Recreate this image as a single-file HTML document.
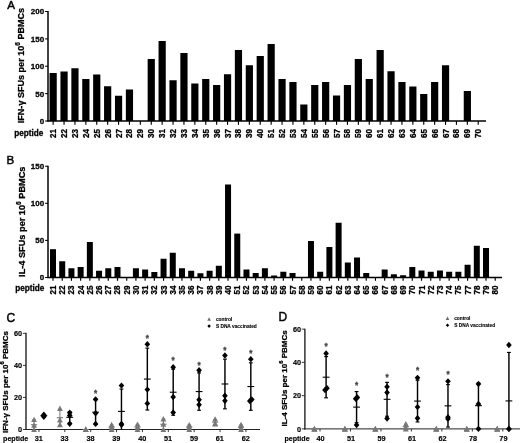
<!DOCTYPE html>
<html><head><meta charset="utf-8"><title>Figure</title>
<style>
html,body{margin:0;padding:0;background:#fff;}
svg{display:block;}
svg text{font-family:"Liberation Sans",Arial,sans-serif;}
</style></head><body>
<svg width="520" height="443" viewBox="0 0 520 443">
<rect x="0" y="0" width="520" height="443" fill="#fff"/>
<text x="7.2" y="8.9" font-size="11.6" font-weight="normal" text-anchor="start" fill="#000" stroke="#000" stroke-width="0.45">A</text>
<text x="24.5" y="123.2" font-size="9.05" font-weight="bold" text-anchor="start" fill="#000" stroke="#000" stroke-width="0.28" transform="rotate(-90 24.5 123.2)">IFN-γ SFUs per 10<tspan font-size="6.5" dy="-4.3">6</tspan><tspan dy="4.3"> PBMCs</tspan></text>
<line x1="48" y1="11" x2="48" y2="121.5" stroke="#000" stroke-width="1.5"/>
<line x1="47.3" y1="121.0" x2="486" y2="121.0" stroke="#000" stroke-width="1.3"/>
<line x1="45.1" y1="11.5" x2="48" y2="11.5" stroke="#000" stroke-width="1.05"/>
<text x="44.1" y="14.4" font-size="8" font-weight="bold" text-anchor="end" fill="#000" stroke="#000" stroke-width="0.28">200</text>
<line x1="45.1" y1="38.9" x2="48" y2="38.9" stroke="#000" stroke-width="1.05"/>
<text x="44.1" y="41.8" font-size="8" font-weight="bold" text-anchor="end" fill="#000" stroke="#000" stroke-width="0.28">150</text>
<line x1="45.1" y1="66.2" x2="48" y2="66.2" stroke="#000" stroke-width="1.05"/>
<text x="44.1" y="69.10000000000001" font-size="8" font-weight="bold" text-anchor="end" fill="#000" stroke="#000" stroke-width="0.28">100</text>
<line x1="45.1" y1="93.6" x2="48" y2="93.6" stroke="#000" stroke-width="1.05"/>
<text x="44.1" y="96.5" font-size="8" font-weight="bold" text-anchor="end" fill="#000" stroke="#000" stroke-width="0.28">50</text>
<line x1="45.1" y1="121" x2="48" y2="121" stroke="#000" stroke-width="1.05"/>
<text x="44.1" y="123.9" font-size="8" font-weight="bold" text-anchor="end" fill="#000" stroke="#000" stroke-width="0.28">0</text>
<rect x="49.55" y="73.00" width="7.20" height="48.00" fill="#000"/>
<line x1="53.15" y1="121.0" x2="53.15" y2="124.8" stroke="#000" stroke-width="1.15"/>
<text x="56.15" y="137.9" font-size="8.15" font-weight="bold" text-anchor="start" fill="#000" stroke="#000" stroke-width="0.28" transform="rotate(-90 56.15 137.9)">21</text>
<rect x="60.45" y="71.50" width="7.20" height="49.50" fill="#000"/>
<line x1="64.05" y1="121.0" x2="64.05" y2="124.8" stroke="#000" stroke-width="1.15"/>
<text x="67.05" y="137.9" font-size="8.15" font-weight="bold" text-anchor="start" fill="#000" stroke="#000" stroke-width="0.28" transform="rotate(-90 67.05 137.9)">22</text>
<rect x="71.35" y="68.25" width="7.20" height="52.75" fill="#000"/>
<line x1="74.94999999999999" y1="121.0" x2="74.94999999999999" y2="124.8" stroke="#000" stroke-width="1.15"/>
<text x="77.94999999999999" y="137.9" font-size="8.15" font-weight="bold" text-anchor="start" fill="#000" stroke="#000" stroke-width="0.28" transform="rotate(-90 77.94999999999999 137.9)">23</text>
<rect x="82.25" y="79.00" width="7.20" height="42.00" fill="#000"/>
<line x1="85.85" y1="121.0" x2="85.85" y2="124.8" stroke="#000" stroke-width="1.15"/>
<text x="88.85" y="137.9" font-size="8.15" font-weight="bold" text-anchor="start" fill="#000" stroke="#000" stroke-width="0.28" transform="rotate(-90 88.85 137.9)">24</text>
<rect x="93.15" y="74.50" width="7.20" height="46.50" fill="#000"/>
<line x1="96.75" y1="121.0" x2="96.75" y2="124.8" stroke="#000" stroke-width="1.15"/>
<text x="99.75" y="137.9" font-size="8.15" font-weight="bold" text-anchor="start" fill="#000" stroke="#000" stroke-width="0.28" transform="rotate(-90 99.75 137.9)">25</text>
<rect x="104.05" y="86.25" width="7.20" height="34.75" fill="#000"/>
<line x1="107.64999999999999" y1="121.0" x2="107.64999999999999" y2="124.8" stroke="#000" stroke-width="1.15"/>
<text x="110.64999999999999" y="137.9" font-size="8.15" font-weight="bold" text-anchor="start" fill="#000" stroke="#000" stroke-width="0.28" transform="rotate(-90 110.64999999999999 137.9)">26</text>
<rect x="114.95" y="95.75" width="7.20" height="25.25" fill="#000"/>
<line x1="118.55" y1="121.0" x2="118.55" y2="124.8" stroke="#000" stroke-width="1.15"/>
<text x="121.55" y="137.9" font-size="8.15" font-weight="bold" text-anchor="start" fill="#000" stroke="#000" stroke-width="0.28" transform="rotate(-90 121.55 137.9)">27</text>
<rect x="125.85" y="89.50" width="7.20" height="31.50" fill="#000"/>
<line x1="129.45" y1="121.0" x2="129.45" y2="124.8" stroke="#000" stroke-width="1.15"/>
<text x="132.45" y="137.9" font-size="8.15" font-weight="bold" text-anchor="start" fill="#000" stroke="#000" stroke-width="0.28" transform="rotate(-90 132.45 137.9)">28</text>
<line x1="140.35" y1="121.0" x2="140.35" y2="124.8" stroke="#000" stroke-width="1.15"/>
<text x="143.35" y="137.9" font-size="8.15" font-weight="bold" text-anchor="start" fill="#000" stroke="#000" stroke-width="0.28" transform="rotate(-90 143.35 137.9)">29</text>
<rect x="147.65" y="59.00" width="7.20" height="62.00" fill="#000"/>
<line x1="151.25" y1="121.0" x2="151.25" y2="124.8" stroke="#000" stroke-width="1.15"/>
<text x="154.25" y="137.9" font-size="8.15" font-weight="bold" text-anchor="start" fill="#000" stroke="#000" stroke-width="0.28" transform="rotate(-90 154.25 137.9)">30</text>
<rect x="158.55" y="41.00" width="7.20" height="80.00" fill="#000"/>
<line x1="162.15" y1="121.0" x2="162.15" y2="124.8" stroke="#000" stroke-width="1.15"/>
<text x="165.15" y="137.9" font-size="8.15" font-weight="bold" text-anchor="start" fill="#000" stroke="#000" stroke-width="0.28" transform="rotate(-90 165.15 137.9)">31</text>
<rect x="169.45" y="80.25" width="7.20" height="40.75" fill="#000"/>
<line x1="173.04999999999998" y1="121.0" x2="173.04999999999998" y2="124.8" stroke="#000" stroke-width="1.15"/>
<text x="176.04999999999998" y="137.9" font-size="8.15" font-weight="bold" text-anchor="start" fill="#000" stroke="#000" stroke-width="0.28" transform="rotate(-90 176.04999999999998 137.9)">32</text>
<rect x="180.35" y="53.00" width="7.20" height="68.00" fill="#000"/>
<line x1="183.95000000000002" y1="121.0" x2="183.95000000000002" y2="124.8" stroke="#000" stroke-width="1.15"/>
<text x="186.95000000000002" y="137.9" font-size="8.15" font-weight="bold" text-anchor="start" fill="#000" stroke="#000" stroke-width="0.28" transform="rotate(-90 186.95000000000002 137.9)">33</text>
<rect x="191.25" y="83.50" width="7.20" height="37.50" fill="#000"/>
<line x1="194.85" y1="121.0" x2="194.85" y2="124.8" stroke="#000" stroke-width="1.15"/>
<text x="197.85" y="137.9" font-size="8.15" font-weight="bold" text-anchor="start" fill="#000" stroke="#000" stroke-width="0.28" transform="rotate(-90 197.85 137.9)">34</text>
<rect x="202.15" y="79.00" width="7.20" height="42.00" fill="#000"/>
<line x1="205.74999999999997" y1="121.0" x2="205.74999999999997" y2="124.8" stroke="#000" stroke-width="1.15"/>
<text x="208.74999999999997" y="137.9" font-size="8.15" font-weight="bold" text-anchor="start" fill="#000" stroke="#000" stroke-width="0.28" transform="rotate(-90 208.74999999999997 137.9)">35</text>
<rect x="213.05" y="85.00" width="7.20" height="36.00" fill="#000"/>
<line x1="216.65" y1="121.0" x2="216.65" y2="124.8" stroke="#000" stroke-width="1.15"/>
<text x="219.65" y="137.9" font-size="8.15" font-weight="bold" text-anchor="start" fill="#000" stroke="#000" stroke-width="0.28" transform="rotate(-90 219.65 137.9)">36</text>
<rect x="223.95" y="74.25" width="7.20" height="46.75" fill="#000"/>
<line x1="227.54999999999998" y1="121.0" x2="227.54999999999998" y2="124.8" stroke="#000" stroke-width="1.15"/>
<text x="230.54999999999998" y="137.9" font-size="8.15" font-weight="bold" text-anchor="start" fill="#000" stroke="#000" stroke-width="0.28" transform="rotate(-90 230.54999999999998 137.9)">37</text>
<rect x="234.85" y="50.00" width="7.20" height="71.00" fill="#000"/>
<line x1="238.45000000000002" y1="121.0" x2="238.45000000000002" y2="124.8" stroke="#000" stroke-width="1.15"/>
<text x="241.45000000000002" y="137.9" font-size="8.15" font-weight="bold" text-anchor="start" fill="#000" stroke="#000" stroke-width="0.28" transform="rotate(-90 241.45000000000002 137.9)">38</text>
<rect x="245.75" y="65.25" width="7.20" height="55.75" fill="#000"/>
<line x1="249.35" y1="121.0" x2="249.35" y2="124.8" stroke="#000" stroke-width="1.15"/>
<text x="252.35" y="137.9" font-size="8.15" font-weight="bold" text-anchor="start" fill="#000" stroke="#000" stroke-width="0.28" transform="rotate(-90 252.35 137.9)">39</text>
<rect x="256.65" y="56.00" width="7.20" height="65.00" fill="#000"/>
<line x1="260.25" y1="121.0" x2="260.25" y2="124.8" stroke="#000" stroke-width="1.15"/>
<text x="263.25" y="137.9" font-size="8.15" font-weight="bold" text-anchor="start" fill="#000" stroke="#000" stroke-width="0.28" transform="rotate(-90 263.25 137.9)">40</text>
<rect x="267.55" y="44.00" width="7.20" height="77.00" fill="#000"/>
<line x1="271.15000000000003" y1="121.0" x2="271.15000000000003" y2="124.8" stroke="#000" stroke-width="1.15"/>
<text x="274.15000000000003" y="137.9" font-size="8.15" font-weight="bold" text-anchor="start" fill="#000" stroke="#000" stroke-width="0.28" transform="rotate(-90 274.15000000000003 137.9)">51</text>
<rect x="278.45" y="79.00" width="7.20" height="42.00" fill="#000"/>
<line x1="282.05" y1="121.0" x2="282.05" y2="124.8" stroke="#000" stroke-width="1.15"/>
<text x="285.05" y="137.9" font-size="8.15" font-weight="bold" text-anchor="start" fill="#000" stroke="#000" stroke-width="0.28" transform="rotate(-90 285.05 137.9)">52</text>
<rect x="289.35" y="82.00" width="7.20" height="39.00" fill="#000"/>
<line x1="292.95000000000005" y1="121.0" x2="292.95000000000005" y2="124.8" stroke="#000" stroke-width="1.15"/>
<text x="295.95000000000005" y="137.9" font-size="8.15" font-weight="bold" text-anchor="start" fill="#000" stroke="#000" stroke-width="0.28" transform="rotate(-90 295.95000000000005 137.9)">53</text>
<rect x="300.25" y="104.50" width="7.20" height="16.50" fill="#000"/>
<line x1="303.85" y1="121.0" x2="303.85" y2="124.8" stroke="#000" stroke-width="1.15"/>
<text x="306.85" y="137.9" font-size="8.15" font-weight="bold" text-anchor="start" fill="#000" stroke="#000" stroke-width="0.28" transform="rotate(-90 306.85 137.9)">54</text>
<rect x="311.15" y="85.00" width="7.20" height="36.00" fill="#000"/>
<line x1="314.75000000000006" y1="121.0" x2="314.75000000000006" y2="124.8" stroke="#000" stroke-width="1.15"/>
<text x="317.75000000000006" y="137.9" font-size="8.15" font-weight="bold" text-anchor="start" fill="#000" stroke="#000" stroke-width="0.28" transform="rotate(-90 317.75000000000006 137.9)">55</text>
<rect x="322.05" y="82.00" width="7.20" height="39.00" fill="#000"/>
<line x1="325.65000000000003" y1="121.0" x2="325.65000000000003" y2="124.8" stroke="#000" stroke-width="1.15"/>
<text x="328.65000000000003" y="137.9" font-size="8.15" font-weight="bold" text-anchor="start" fill="#000" stroke="#000" stroke-width="0.28" transform="rotate(-90 328.65000000000003 137.9)">56</text>
<rect x="332.95" y="95.50" width="7.20" height="25.50" fill="#000"/>
<line x1="336.55000000000007" y1="121.0" x2="336.55000000000007" y2="124.8" stroke="#000" stroke-width="1.15"/>
<text x="339.55000000000007" y="137.9" font-size="8.15" font-weight="bold" text-anchor="start" fill="#000" stroke="#000" stroke-width="0.28" transform="rotate(-90 339.55000000000007 137.9)">57</text>
<rect x="343.85" y="85.00" width="7.20" height="36.00" fill="#000"/>
<line x1="347.45000000000005" y1="121.0" x2="347.45000000000005" y2="124.8" stroke="#000" stroke-width="1.15"/>
<text x="350.45000000000005" y="137.9" font-size="8.15" font-weight="bold" text-anchor="start" fill="#000" stroke="#000" stroke-width="0.28" transform="rotate(-90 350.45000000000005 137.9)">58</text>
<rect x="354.75" y="59.00" width="7.20" height="62.00" fill="#000"/>
<line x1="358.35" y1="121.0" x2="358.35" y2="124.8" stroke="#000" stroke-width="1.15"/>
<text x="361.35" y="137.9" font-size="8.15" font-weight="bold" text-anchor="start" fill="#000" stroke="#000" stroke-width="0.28" transform="rotate(-90 361.35 137.9)">59</text>
<rect x="365.65" y="79.00" width="7.20" height="42.00" fill="#000"/>
<line x1="369.25000000000006" y1="121.0" x2="369.25000000000006" y2="124.8" stroke="#000" stroke-width="1.15"/>
<text x="372.25000000000006" y="137.9" font-size="8.15" font-weight="bold" text-anchor="start" fill="#000" stroke="#000" stroke-width="0.28" transform="rotate(-90 372.25000000000006 137.9)">60</text>
<rect x="376.55" y="50.00" width="7.20" height="71.00" fill="#000"/>
<line x1="380.15000000000003" y1="121.0" x2="380.15000000000003" y2="124.8" stroke="#000" stroke-width="1.15"/>
<text x="383.15000000000003" y="137.9" font-size="8.15" font-weight="bold" text-anchor="start" fill="#000" stroke="#000" stroke-width="0.28" transform="rotate(-90 383.15000000000003 137.9)">61</text>
<rect x="387.45" y="71.25" width="7.20" height="49.75" fill="#000"/>
<line x1="391.05000000000007" y1="121.0" x2="391.05000000000007" y2="124.8" stroke="#000" stroke-width="1.15"/>
<text x="394.05000000000007" y="137.9" font-size="8.15" font-weight="bold" text-anchor="start" fill="#000" stroke="#000" stroke-width="0.28" transform="rotate(-90 394.05000000000007 137.9)">62</text>
<rect x="398.35" y="82.00" width="7.20" height="39.00" fill="#000"/>
<line x1="401.95000000000005" y1="121.0" x2="401.95000000000005" y2="124.8" stroke="#000" stroke-width="1.15"/>
<text x="404.95000000000005" y="137.9" font-size="8.15" font-weight="bold" text-anchor="start" fill="#000" stroke="#000" stroke-width="0.28" transform="rotate(-90 404.95000000000005 137.9)">63</text>
<rect x="409.25" y="86.50" width="7.20" height="34.50" fill="#000"/>
<line x1="412.85" y1="121.0" x2="412.85" y2="124.8" stroke="#000" stroke-width="1.15"/>
<text x="415.85" y="137.9" font-size="8.15" font-weight="bold" text-anchor="start" fill="#000" stroke="#000" stroke-width="0.28" transform="rotate(-90 415.85 137.9)">64</text>
<rect x="420.15" y="94.00" width="7.20" height="27.00" fill="#000"/>
<line x1="423.75000000000006" y1="121.0" x2="423.75000000000006" y2="124.8" stroke="#000" stroke-width="1.15"/>
<text x="426.75000000000006" y="137.9" font-size="8.15" font-weight="bold" text-anchor="start" fill="#000" stroke="#000" stroke-width="0.28" transform="rotate(-90 426.75000000000006 137.9)">65</text>
<rect x="431.05" y="82.00" width="7.20" height="39.00" fill="#000"/>
<line x1="434.65000000000003" y1="121.0" x2="434.65000000000003" y2="124.8" stroke="#000" stroke-width="1.15"/>
<text x="437.65000000000003" y="137.9" font-size="8.15" font-weight="bold" text-anchor="start" fill="#000" stroke="#000" stroke-width="0.28" transform="rotate(-90 437.65000000000003 137.9)">66</text>
<rect x="441.95" y="65.25" width="7.20" height="55.75" fill="#000"/>
<line x1="445.55000000000007" y1="121.0" x2="445.55000000000007" y2="124.8" stroke="#000" stroke-width="1.15"/>
<text x="448.55000000000007" y="137.9" font-size="8.15" font-weight="bold" text-anchor="start" fill="#000" stroke="#000" stroke-width="0.28" transform="rotate(-90 448.55000000000007 137.9)">67</text>
<line x1="456.45000000000005" y1="121.0" x2="456.45000000000005" y2="124.8" stroke="#000" stroke-width="1.15"/>
<text x="459.45000000000005" y="137.9" font-size="8.15" font-weight="bold" text-anchor="start" fill="#000" stroke="#000" stroke-width="0.28" transform="rotate(-90 459.45000000000005 137.9)">68</text>
<rect x="463.75" y="91.00" width="7.20" height="30.00" fill="#000"/>
<line x1="467.35" y1="121.0" x2="467.35" y2="124.8" stroke="#000" stroke-width="1.15"/>
<text x="470.35" y="137.9" font-size="8.15" font-weight="bold" text-anchor="start" fill="#000" stroke="#000" stroke-width="0.28" transform="rotate(-90 470.35 137.9)">69</text>
<line x1="478.25000000000006" y1="121.0" x2="478.25000000000006" y2="124.8" stroke="#000" stroke-width="1.15"/>
<text x="481.25000000000006" y="137.9" font-size="8.15" font-weight="bold" text-anchor="start" fill="#000" stroke="#000" stroke-width="0.28" transform="rotate(-90 481.25000000000006 137.9)">70</text>
<text x="14.2" y="135.7" font-size="8.2" font-weight="bold" text-anchor="start" fill="#000" stroke="#000" stroke-width="0.28">peptide</text>
<text x="6.6" y="163.5" font-size="11.6" font-weight="normal" text-anchor="start" fill="#000" stroke="#000" stroke-width="0.45">B</text>
<text x="24.9" y="276.9" font-size="9.2" font-weight="bold" text-anchor="start" fill="#000" stroke="#000" stroke-width="0.28" transform="rotate(-90 24.9 276.9)">IL-4 SFUs per 10<tspan font-size="6.5" dy="-4.3">6</tspan><tspan dy="4.3"> PBMCs</tspan></text>
<line x1="48" y1="165.7" x2="48" y2="278.0" stroke="#000" stroke-width="1.5"/>
<line x1="47.3" y1="277.5" x2="502" y2="277.5" stroke="#000" stroke-width="1.3"/>
<line x1="45.1" y1="166.25" x2="48" y2="166.25" stroke="#000" stroke-width="1.05"/>
<text x="44.1" y="169.15" font-size="8" font-weight="bold" text-anchor="end" fill="#000" stroke="#000" stroke-width="0.28">150</text>
<line x1="45.1" y1="203.3" x2="48" y2="203.3" stroke="#000" stroke-width="1.05"/>
<text x="44.1" y="206.20000000000002" font-size="8" font-weight="bold" text-anchor="end" fill="#000" stroke="#000" stroke-width="0.28">100</text>
<line x1="45.1" y1="240.4" x2="48" y2="240.4" stroke="#000" stroke-width="1.05"/>
<text x="44.1" y="243.3" font-size="8" font-weight="bold" text-anchor="end" fill="#000" stroke="#000" stroke-width="0.28">50</text>
<line x1="45.1" y1="277.5" x2="48" y2="277.5" stroke="#000" stroke-width="1.05"/>
<text x="44.1" y="280.4" font-size="8" font-weight="bold" text-anchor="end" fill="#000" stroke="#000" stroke-width="0.28">0</text>
<rect x="50.00" y="249.20" width="6.00" height="28.30" fill="#000"/>
<line x1="53.0" y1="277.5" x2="53.0" y2="280.8" stroke="#000" stroke-width="1.15"/>
<text x="56.0" y="294.6" font-size="8.15" font-weight="bold" text-anchor="start" fill="#000" stroke="#000" stroke-width="0.28" transform="rotate(-90 56.0 294.6)">21</text>
<rect x="59.21" y="261.25" width="6.00" height="16.25" fill="#000"/>
<line x1="62.213" y1="277.5" x2="62.213" y2="280.8" stroke="#000" stroke-width="1.15"/>
<text x="65.213" y="294.6" font-size="8.15" font-weight="bold" text-anchor="start" fill="#000" stroke="#000" stroke-width="0.28" transform="rotate(-90 65.213 294.6)">22</text>
<rect x="68.43" y="268.25" width="6.00" height="9.25" fill="#000"/>
<line x1="71.426" y1="277.5" x2="71.426" y2="280.8" stroke="#000" stroke-width="1.15"/>
<text x="74.426" y="294.6" font-size="8.15" font-weight="bold" text-anchor="start" fill="#000" stroke="#000" stroke-width="0.28" transform="rotate(-90 74.426 294.6)">23</text>
<rect x="77.64" y="267.00" width="6.00" height="10.50" fill="#000"/>
<line x1="80.639" y1="277.5" x2="80.639" y2="280.8" stroke="#000" stroke-width="1.15"/>
<text x="83.639" y="294.6" font-size="8.15" font-weight="bold" text-anchor="start" fill="#000" stroke="#000" stroke-width="0.28" transform="rotate(-90 83.639 294.6)">24</text>
<rect x="86.85" y="242.00" width="6.00" height="35.50" fill="#000"/>
<line x1="89.852" y1="277.5" x2="89.852" y2="280.8" stroke="#000" stroke-width="1.15"/>
<text x="92.852" y="294.6" font-size="8.15" font-weight="bold" text-anchor="start" fill="#000" stroke="#000" stroke-width="0.28" transform="rotate(-90 92.852 294.6)">25</text>
<rect x="96.06" y="270.75" width="6.00" height="6.75" fill="#000"/>
<line x1="99.065" y1="277.5" x2="99.065" y2="280.8" stroke="#000" stroke-width="1.15"/>
<text x="102.065" y="294.6" font-size="8.15" font-weight="bold" text-anchor="start" fill="#000" stroke="#000" stroke-width="0.28" transform="rotate(-90 102.065 294.6)">26</text>
<rect x="105.28" y="268.25" width="6.00" height="9.25" fill="#000"/>
<line x1="108.27799999999999" y1="277.5" x2="108.27799999999999" y2="280.8" stroke="#000" stroke-width="1.15"/>
<text x="111.27799999999999" y="294.6" font-size="8.15" font-weight="bold" text-anchor="start" fill="#000" stroke="#000" stroke-width="0.28" transform="rotate(-90 111.27799999999999 294.6)">27</text>
<rect x="114.49" y="267.00" width="6.00" height="10.50" fill="#000"/>
<line x1="117.491" y1="277.5" x2="117.491" y2="280.8" stroke="#000" stroke-width="1.15"/>
<text x="120.491" y="294.6" font-size="8.15" font-weight="bold" text-anchor="start" fill="#000" stroke="#000" stroke-width="0.28" transform="rotate(-90 120.491 294.6)">28</text>
<line x1="126.704" y1="277.5" x2="126.704" y2="280.8" stroke="#000" stroke-width="1.15"/>
<text x="129.704" y="294.6" font-size="8.15" font-weight="bold" text-anchor="start" fill="#000" stroke="#000" stroke-width="0.28" transform="rotate(-90 129.704 294.6)">29</text>
<rect x="132.92" y="268.25" width="6.00" height="9.25" fill="#000"/>
<line x1="135.91699999999997" y1="277.5" x2="135.91699999999997" y2="280.8" stroke="#000" stroke-width="1.15"/>
<text x="138.91699999999997" y="294.6" font-size="8.15" font-weight="bold" text-anchor="start" fill="#000" stroke="#000" stroke-width="0.28" transform="rotate(-90 138.91699999999997 294.6)">30</text>
<rect x="142.13" y="269.50" width="6.00" height="8.00" fill="#000"/>
<line x1="145.13" y1="277.5" x2="145.13" y2="280.8" stroke="#000" stroke-width="1.15"/>
<text x="148.13" y="294.6" font-size="8.15" font-weight="bold" text-anchor="start" fill="#000" stroke="#000" stroke-width="0.28" transform="rotate(-90 148.13 294.6)">31</text>
<rect x="151.34" y="272.00" width="6.00" height="5.50" fill="#000"/>
<line x1="154.343" y1="277.5" x2="154.343" y2="280.8" stroke="#000" stroke-width="1.15"/>
<text x="157.343" y="294.6" font-size="8.15" font-weight="bold" text-anchor="start" fill="#000" stroke="#000" stroke-width="0.28" transform="rotate(-90 157.343 294.6)">32</text>
<rect x="160.56" y="258.75" width="6.00" height="18.75" fill="#000"/>
<line x1="163.55599999999998" y1="277.5" x2="163.55599999999998" y2="280.8" stroke="#000" stroke-width="1.15"/>
<text x="166.55599999999998" y="294.6" font-size="8.15" font-weight="bold" text-anchor="start" fill="#000" stroke="#000" stroke-width="0.28" transform="rotate(-90 166.55599999999998 294.6)">33</text>
<rect x="169.77" y="252.75" width="6.00" height="24.75" fill="#000"/>
<line x1="172.769" y1="277.5" x2="172.769" y2="280.8" stroke="#000" stroke-width="1.15"/>
<text x="175.769" y="294.6" font-size="8.15" font-weight="bold" text-anchor="start" fill="#000" stroke="#000" stroke-width="0.28" transform="rotate(-90 175.769 294.6)">34</text>
<rect x="178.98" y="268.25" width="6.00" height="9.25" fill="#000"/>
<line x1="181.982" y1="277.5" x2="181.982" y2="280.8" stroke="#000" stroke-width="1.15"/>
<text x="184.982" y="294.6" font-size="8.15" font-weight="bold" text-anchor="start" fill="#000" stroke="#000" stroke-width="0.28" transform="rotate(-90 184.982 294.6)">35</text>
<rect x="188.19" y="270.75" width="6.00" height="6.75" fill="#000"/>
<line x1="191.195" y1="277.5" x2="191.195" y2="280.8" stroke="#000" stroke-width="1.15"/>
<text x="194.195" y="294.6" font-size="8.15" font-weight="bold" text-anchor="start" fill="#000" stroke="#000" stroke-width="0.28" transform="rotate(-90 194.195 294.6)">36</text>
<rect x="197.41" y="273.25" width="6.00" height="4.25" fill="#000"/>
<line x1="200.408" y1="277.5" x2="200.408" y2="280.8" stroke="#000" stroke-width="1.15"/>
<text x="203.408" y="294.6" font-size="8.15" font-weight="bold" text-anchor="start" fill="#000" stroke="#000" stroke-width="0.28" transform="rotate(-90 203.408 294.6)">37</text>
<rect x="206.62" y="270.75" width="6.00" height="6.75" fill="#000"/>
<line x1="209.62099999999998" y1="277.5" x2="209.62099999999998" y2="280.8" stroke="#000" stroke-width="1.15"/>
<text x="212.62099999999998" y="294.6" font-size="8.15" font-weight="bold" text-anchor="start" fill="#000" stroke="#000" stroke-width="0.28" transform="rotate(-90 212.62099999999998 294.6)">38</text>
<rect x="215.83" y="265.75" width="6.00" height="11.75" fill="#000"/>
<line x1="218.83399999999997" y1="277.5" x2="218.83399999999997" y2="280.8" stroke="#000" stroke-width="1.15"/>
<text x="221.83399999999997" y="294.6" font-size="8.15" font-weight="bold" text-anchor="start" fill="#000" stroke="#000" stroke-width="0.28" transform="rotate(-90 221.83399999999997 294.6)">39</text>
<rect x="225.05" y="184.50" width="6.00" height="93.00" fill="#000"/>
<line x1="228.047" y1="277.5" x2="228.047" y2="280.8" stroke="#000" stroke-width="1.15"/>
<text x="231.047" y="294.6" font-size="8.15" font-weight="bold" text-anchor="start" fill="#000" stroke="#000" stroke-width="0.28" transform="rotate(-90 231.047 294.6)">40</text>
<rect x="234.26" y="233.60" width="6.00" height="43.90" fill="#000"/>
<line x1="237.26" y1="277.5" x2="237.26" y2="280.8" stroke="#000" stroke-width="1.15"/>
<text x="240.26" y="294.6" font-size="8.15" font-weight="bold" text-anchor="start" fill="#000" stroke="#000" stroke-width="0.28" transform="rotate(-90 240.26 294.6)">51</text>
<rect x="243.47" y="269.50" width="6.00" height="8.00" fill="#000"/>
<line x1="246.47299999999998" y1="277.5" x2="246.47299999999998" y2="280.8" stroke="#000" stroke-width="1.15"/>
<text x="249.47299999999998" y="294.6" font-size="8.15" font-weight="bold" text-anchor="start" fill="#000" stroke="#000" stroke-width="0.28" transform="rotate(-90 249.47299999999998 294.6)">52</text>
<rect x="252.69" y="273.00" width="6.00" height="4.50" fill="#000"/>
<line x1="255.68599999999998" y1="277.5" x2="255.68599999999998" y2="280.8" stroke="#000" stroke-width="1.15"/>
<text x="258.686" y="294.6" font-size="8.15" font-weight="bold" text-anchor="start" fill="#000" stroke="#000" stroke-width="0.28" transform="rotate(-90 258.686 294.6)">53</text>
<rect x="261.90" y="268.25" width="6.00" height="9.25" fill="#000"/>
<line x1="264.899" y1="277.5" x2="264.899" y2="280.8" stroke="#000" stroke-width="1.15"/>
<text x="267.899" y="294.6" font-size="8.15" font-weight="bold" text-anchor="start" fill="#000" stroke="#000" stroke-width="0.28" transform="rotate(-90 267.899 294.6)">54</text>
<rect x="271.11" y="275.50" width="6.00" height="2.00" fill="#000"/>
<line x1="274.11199999999997" y1="277.5" x2="274.11199999999997" y2="280.8" stroke="#000" stroke-width="1.15"/>
<text x="277.11199999999997" y="294.6" font-size="8.15" font-weight="bold" text-anchor="start" fill="#000" stroke="#000" stroke-width="0.28" transform="rotate(-90 277.11199999999997 294.6)">55</text>
<rect x="280.32" y="271.75" width="6.00" height="5.75" fill="#000"/>
<line x1="283.325" y1="277.5" x2="283.325" y2="280.8" stroke="#000" stroke-width="1.15"/>
<text x="286.325" y="294.6" font-size="8.15" font-weight="bold" text-anchor="start" fill="#000" stroke="#000" stroke-width="0.28" transform="rotate(-90 286.325 294.6)">56</text>
<rect x="289.54" y="273.00" width="6.00" height="4.50" fill="#000"/>
<line x1="292.538" y1="277.5" x2="292.538" y2="280.8" stroke="#000" stroke-width="1.15"/>
<text x="295.538" y="294.6" font-size="8.15" font-weight="bold" text-anchor="start" fill="#000" stroke="#000" stroke-width="0.28" transform="rotate(-90 295.538 294.6)">57</text>
<line x1="301.751" y1="277.5" x2="301.751" y2="280.8" stroke="#000" stroke-width="1.15"/>
<text x="304.751" y="294.6" font-size="8.15" font-weight="bold" text-anchor="start" fill="#000" stroke="#000" stroke-width="0.28" transform="rotate(-90 304.751 294.6)">58</text>
<rect x="307.96" y="241.00" width="6.00" height="36.50" fill="#000"/>
<line x1="310.964" y1="277.5" x2="310.964" y2="280.8" stroke="#000" stroke-width="1.15"/>
<text x="313.964" y="294.6" font-size="8.15" font-weight="bold" text-anchor="start" fill="#000" stroke="#000" stroke-width="0.28" transform="rotate(-90 313.964 294.6)">59</text>
<rect x="317.18" y="271.75" width="6.00" height="5.75" fill="#000"/>
<line x1="320.17699999999996" y1="277.5" x2="320.17699999999996" y2="280.8" stroke="#000" stroke-width="1.15"/>
<text x="323.17699999999996" y="294.6" font-size="8.15" font-weight="bold" text-anchor="start" fill="#000" stroke="#000" stroke-width="0.28" transform="rotate(-90 323.17699999999996 294.6)">60</text>
<rect x="326.39" y="247.00" width="6.00" height="30.50" fill="#000"/>
<line x1="329.39" y1="277.5" x2="329.39" y2="280.8" stroke="#000" stroke-width="1.15"/>
<text x="332.39" y="294.6" font-size="8.15" font-weight="bold" text-anchor="start" fill="#000" stroke="#000" stroke-width="0.28" transform="rotate(-90 332.39 294.6)">61</text>
<rect x="335.60" y="222.75" width="6.00" height="54.75" fill="#000"/>
<line x1="338.60299999999995" y1="277.5" x2="338.60299999999995" y2="280.8" stroke="#000" stroke-width="1.15"/>
<text x="341.60299999999995" y="294.6" font-size="8.15" font-weight="bold" text-anchor="start" fill="#000" stroke="#000" stroke-width="0.28" transform="rotate(-90 341.60299999999995 294.6)">62</text>
<rect x="344.82" y="262.50" width="6.00" height="15.00" fill="#000"/>
<line x1="347.816" y1="277.5" x2="347.816" y2="280.8" stroke="#000" stroke-width="1.15"/>
<text x="350.816" y="294.6" font-size="8.15" font-weight="bold" text-anchor="start" fill="#000" stroke="#000" stroke-width="0.28" transform="rotate(-90 350.816 294.6)">63</text>
<rect x="354.03" y="257.50" width="6.00" height="20.00" fill="#000"/>
<line x1="357.029" y1="277.5" x2="357.029" y2="280.8" stroke="#000" stroke-width="1.15"/>
<text x="360.029" y="294.6" font-size="8.15" font-weight="bold" text-anchor="start" fill="#000" stroke="#000" stroke-width="0.28" transform="rotate(-90 360.029 294.6)">64</text>
<rect x="363.24" y="273.00" width="6.00" height="4.50" fill="#000"/>
<line x1="366.24199999999996" y1="277.5" x2="366.24199999999996" y2="280.8" stroke="#000" stroke-width="1.15"/>
<text x="369.24199999999996" y="294.6" font-size="8.15" font-weight="bold" text-anchor="start" fill="#000" stroke="#000" stroke-width="0.28" transform="rotate(-90 369.24199999999996 294.6)">65</text>
<line x1="375.455" y1="277.5" x2="375.455" y2="280.8" stroke="#000" stroke-width="1.15"/>
<text x="378.455" y="294.6" font-size="8.15" font-weight="bold" text-anchor="start" fill="#000" stroke="#000" stroke-width="0.28" transform="rotate(-90 378.455 294.6)">66</text>
<rect x="381.67" y="269.50" width="6.00" height="8.00" fill="#000"/>
<line x1="384.66799999999995" y1="277.5" x2="384.66799999999995" y2="280.8" stroke="#000" stroke-width="1.15"/>
<text x="387.66799999999995" y="294.6" font-size="8.15" font-weight="bold" text-anchor="start" fill="#000" stroke="#000" stroke-width="0.28" transform="rotate(-90 387.66799999999995 294.6)">67</text>
<rect x="390.88" y="274.25" width="6.00" height="3.25" fill="#000"/>
<line x1="393.881" y1="277.5" x2="393.881" y2="280.8" stroke="#000" stroke-width="1.15"/>
<text x="396.881" y="294.6" font-size="8.15" font-weight="bold" text-anchor="start" fill="#000" stroke="#000" stroke-width="0.28" transform="rotate(-90 396.881 294.6)">68</text>
<rect x="400.09" y="275.25" width="6.00" height="2.25" fill="#000"/>
<line x1="403.094" y1="277.5" x2="403.094" y2="280.8" stroke="#000" stroke-width="1.15"/>
<text x="406.094" y="294.6" font-size="8.15" font-weight="bold" text-anchor="start" fill="#000" stroke="#000" stroke-width="0.28" transform="rotate(-90 406.094 294.6)">69</text>
<rect x="409.31" y="267.00" width="6.00" height="10.50" fill="#000"/>
<line x1="412.30699999999996" y1="277.5" x2="412.30699999999996" y2="280.8" stroke="#000" stroke-width="1.15"/>
<text x="415.30699999999996" y="294.6" font-size="8.15" font-weight="bold" text-anchor="start" fill="#000" stroke="#000" stroke-width="0.28" transform="rotate(-90 415.30699999999996 294.6)">70</text>
<rect x="418.52" y="270.50" width="6.00" height="7.00" fill="#000"/>
<line x1="421.52" y1="277.5" x2="421.52" y2="280.8" stroke="#000" stroke-width="1.15"/>
<text x="424.52" y="294.6" font-size="8.15" font-weight="bold" text-anchor="start" fill="#000" stroke="#000" stroke-width="0.28" transform="rotate(-90 424.52 294.6)">71</text>
<rect x="427.73" y="271.75" width="6.00" height="5.75" fill="#000"/>
<line x1="430.73299999999995" y1="277.5" x2="430.73299999999995" y2="280.8" stroke="#000" stroke-width="1.15"/>
<text x="433.73299999999995" y="294.6" font-size="8.15" font-weight="bold" text-anchor="start" fill="#000" stroke="#000" stroke-width="0.28" transform="rotate(-90 433.73299999999995 294.6)">72</text>
<rect x="436.95" y="270.50" width="6.00" height="7.00" fill="#000"/>
<line x1="439.94599999999997" y1="277.5" x2="439.94599999999997" y2="280.8" stroke="#000" stroke-width="1.15"/>
<text x="442.94599999999997" y="294.6" font-size="8.15" font-weight="bold" text-anchor="start" fill="#000" stroke="#000" stroke-width="0.28" transform="rotate(-90 442.94599999999997 294.6)">73</text>
<rect x="446.16" y="271.75" width="6.00" height="5.75" fill="#000"/>
<line x1="449.159" y1="277.5" x2="449.159" y2="280.8" stroke="#000" stroke-width="1.15"/>
<text x="452.159" y="294.6" font-size="8.15" font-weight="bold" text-anchor="start" fill="#000" stroke="#000" stroke-width="0.28" transform="rotate(-90 452.159 294.6)">74</text>
<rect x="455.37" y="271.75" width="6.00" height="5.75" fill="#000"/>
<line x1="458.37199999999996" y1="277.5" x2="458.37199999999996" y2="280.8" stroke="#000" stroke-width="1.15"/>
<text x="461.37199999999996" y="294.6" font-size="8.15" font-weight="bold" text-anchor="start" fill="#000" stroke="#000" stroke-width="0.28" transform="rotate(-90 461.37199999999996 294.6)">75</text>
<rect x="464.58" y="264.75" width="6.00" height="12.75" fill="#000"/>
<line x1="467.585" y1="277.5" x2="467.585" y2="280.8" stroke="#000" stroke-width="1.15"/>
<text x="470.585" y="294.6" font-size="8.15" font-weight="bold" text-anchor="start" fill="#000" stroke="#000" stroke-width="0.28" transform="rotate(-90 470.585 294.6)">77</text>
<rect x="473.80" y="245.75" width="6.00" height="31.75" fill="#000"/>
<line x1="476.79799999999994" y1="277.5" x2="476.79799999999994" y2="280.8" stroke="#000" stroke-width="1.15"/>
<text x="479.79799999999994" y="294.6" font-size="8.15" font-weight="bold" text-anchor="start" fill="#000" stroke="#000" stroke-width="0.28" transform="rotate(-90 479.79799999999994 294.6)">78</text>
<rect x="483.01" y="248.00" width="6.00" height="29.50" fill="#000"/>
<line x1="486.01099999999997" y1="277.5" x2="486.01099999999997" y2="280.8" stroke="#000" stroke-width="1.15"/>
<text x="489.01099999999997" y="294.6" font-size="8.15" font-weight="bold" text-anchor="start" fill="#000" stroke="#000" stroke-width="0.28" transform="rotate(-90 489.01099999999997 294.6)">79</text>
<line x1="495.22399999999993" y1="277.5" x2="495.22399999999993" y2="280.8" stroke="#000" stroke-width="1.15"/>
<text x="498.22399999999993" y="294.6" font-size="8.15" font-weight="bold" text-anchor="start" fill="#000" stroke="#000" stroke-width="0.28" transform="rotate(-90 498.22399999999993 294.6)">80</text>
<text x="15.3" y="291.2" font-size="8.2" font-weight="bold" text-anchor="start" fill="#000" stroke="#000" stroke-width="0.28">peptide</text>
<text x="6.6" y="322.4" font-size="12" font-weight="normal" text-anchor="start" fill="#000" stroke="#000" stroke-width="0.45">C</text>
<text x="8.0" y="433.0" font-size="8" font-weight="bold" text-anchor="start" fill="#000" stroke="#000" stroke-width="0.28" transform="rotate(-90 8.0 433.0)">IFN-γ SFUs per 10<tspan font-size="5.8" dy="-3.8">6</tspan><tspan dy="3.8"> PBMCs</tspan></text>
<line x1="26.0" y1="332.85" x2="26.0" y2="430.0" stroke="#222" stroke-width="1.4"/>
<line x1="25.3" y1="429.5" x2="260" y2="429.5" stroke="#222" stroke-width="1.0"/>
<line x1="22.9" y1="333.35" x2="26.0" y2="333.35" stroke="#222" stroke-width="0.9"/>
<text x="22.1" y="335.95000000000005" font-size="7.3" font-weight="bold" text-anchor="end" fill="#000" stroke="#000" stroke-width="0.15">60</text>
<line x1="22.9" y1="365.4" x2="26.0" y2="365.4" stroke="#222" stroke-width="0.9"/>
<text x="22.1" y="368.0" font-size="7.3" font-weight="bold" text-anchor="end" fill="#000" stroke="#000" stroke-width="0.15">40</text>
<line x1="22.9" y1="397.45" x2="26.0" y2="397.45" stroke="#222" stroke-width="0.9"/>
<text x="22.1" y="400.05" font-size="7.3" font-weight="bold" text-anchor="end" fill="#000" stroke="#000" stroke-width="0.15">20</text>
<line x1="22.9" y1="429.5" x2="26.0" y2="429.5" stroke="#222" stroke-width="0.9"/>
<text x="22.1" y="432.1" font-size="7.3" font-weight="bold" text-anchor="end" fill="#000" stroke="#000" stroke-width="0.15">0</text>
<text x="3.1" y="440.8" font-size="7.1" font-weight="bold" text-anchor="start" fill="#000" stroke="#000" stroke-width="0.15">peptide</text>
<line x1="38.95" y1="429.5" x2="38.95" y2="432.1" stroke="#222" stroke-width="0.9"/>
<text x="38.75" y="440.8" font-size="7.3" font-weight="bold" text-anchor="middle" fill="#000" stroke="#000" stroke-width="0.15">31</text>
<line x1="34.050000000000004" y1="419.7644007933774" x2="34.050000000000004" y2="429.5" stroke="#777777" stroke-width="1.0"/>
<line x1="32.25" y1="419.7644007933774" x2="35.85" y2="419.7644007933774" stroke="#777777" stroke-width="0.8"/>
<line x1="30.950000000000003" y1="424.7459166666667" x2="37.150000000000006" y2="424.7459166666667" stroke="#777777" stroke-width="1.1"/>
<polygon points="34.05,416.66 36.95,422.06 31.15,422.06" fill="#777777"/>
<polygon points="34.05,422.27 36.95,427.67 31.15,427.67" fill="#777777"/>
<polygon points="34.05,426.60 36.95,432.00 31.15,432.00" fill="#777777"/>
<line x1="43.85" y1="414.757" x2="43.85" y2="416.68" stroke="#000" stroke-width="1.45"/>
<line x1="41.95" y1="414.757" x2="45.75" y2="414.757" stroke="#000" stroke-width="1.16"/>
<line x1="41.95" y1="416.68" x2="45.75" y2="416.68" stroke="#000" stroke-width="1.16"/>
<line x1="40.45" y1="415.7185" x2="47.25" y2="415.7185" stroke="#000" stroke-width="1.1"/>
<polygon points="43.85,413.48 46.65,416.68 43.85,419.88 41.05,416.68" fill="#000"/>
<polygon points="43.85,412.52 46.65,415.72 43.85,418.92 41.05,415.72" fill="#000"/>
<polygon points="43.85,411.56 46.65,414.76 43.85,417.96 41.05,414.76" fill="#000"/>
<line x1="64.82000000000001" y1="429.5" x2="64.82000000000001" y2="432.1" stroke="#222" stroke-width="0.9"/>
<text x="64.62" y="440.8" font-size="7.3" font-weight="bold" text-anchor="middle" fill="#000" stroke="#000" stroke-width="0.15">33</text>
<line x1="59.92000000000001" y1="409.38300183638637" x2="59.92000000000001" y2="426.006831496947" stroke="#777777" stroke-width="1.0"/>
<line x1="58.12000000000001" y1="409.38300183638637" x2="61.720000000000006" y2="409.38300183638637" stroke="#777777" stroke-width="0.8"/>
<line x1="58.12000000000001" y1="426.006831496947" x2="61.720000000000006" y2="426.006831496947" stroke="#777777" stroke-width="0.8"/>
<line x1="56.82000000000001" y1="417.69491666666664" x2="63.02000000000001" y2="417.69491666666664" stroke="#777777" stroke-width="1.1"/>
<polygon points="59.92,405.61 62.82,411.01 57.02,411.01" fill="#777777"/>
<polygon points="59.92,416.99 62.82,422.38 57.02,422.38" fill="#777777"/>
<polygon points="59.92,421.79 62.82,427.19 57.02,427.19" fill="#777777"/>
<line x1="69.72000000000001" y1="411.58548258110045" x2="69.72000000000001" y2="423.05651741889955" stroke="#000" stroke-width="1.45"/>
<line x1="67.82000000000001" y1="411.58548258110045" x2="71.62000000000002" y2="411.58548258110045" stroke="#000" stroke-width="1.16"/>
<line x1="67.82000000000001" y1="423.05651741889955" x2="71.62000000000002" y2="423.05651741889955" stroke="#000" stroke-width="1.16"/>
<line x1="66.32000000000001" y1="417.321" x2="73.12000000000002" y2="417.321" stroke="#000" stroke-width="1.1"/>
<polygon points="69.72,409.47 72.52,412.67 69.72,415.87 66.92,412.67" fill="#000"/>
<polygon points="69.72,412.36 72.52,415.56 69.72,418.76 66.92,415.56" fill="#000"/>
<polygon points="69.72,420.53 72.52,423.73 69.72,426.93 66.92,423.73" fill="#000"/>
<line x1="90.69" y1="429.5" x2="90.69" y2="432.1" stroke="#222" stroke-width="0.9"/>
<text x="90.49" y="440.8" font-size="7.3" font-weight="bold" text-anchor="middle" fill="#000" stroke="#000" stroke-width="0.15">38</text>
<line x1="82.69" y1="429.5" x2="88.88999999999999" y2="429.5" stroke="#777777" stroke-width="1.1"/>
<polygon points="85.79,426.60 88.69,432.00 82.89,432.00" fill="#777777"/>
<polygon points="85.79,426.60 88.69,432.00 82.89,432.00" fill="#777777"/>
<polygon points="85.79,426.60 88.69,432.00 82.89,432.00" fill="#777777"/>
<line x1="95.59" y1="399.89544381746924" x2="95.59" y2="424.4905561825307" stroke="#000" stroke-width="1.45"/>
<line x1="93.69" y1="399.89544381746924" x2="97.49000000000001" y2="399.89544381746924" stroke="#000" stroke-width="1.16"/>
<line x1="93.69" y1="424.4905561825307" x2="97.49000000000001" y2="424.4905561825307" stroke="#000" stroke-width="1.16"/>
<line x1="92.19" y1="412.193" x2="98.99000000000001" y2="412.193" stroke="#000" stroke-width="1.1"/>
<polygon points="95.59,396.17 98.39,399.37 95.59,402.57 92.79,399.37" fill="#000"/>
<polygon points="95.59,410.11 98.39,413.31 95.59,416.51 92.79,413.31" fill="#000"/>
<polygon points="95.59,420.69 98.39,423.89 95.59,427.09 92.79,423.89" fill="#000"/>
<text x="95.59" y="396.3" font-size="8.2" font-weight="bold" text-anchor="middle" fill="#444" stroke="#444" stroke-width="0.28">*</text>
<line x1="116.56" y1="429.5" x2="116.56" y2="432.1" stroke="#222" stroke-width="0.9"/>
<text x="116.36" y="440.8" font-size="7.3" font-weight="bold" text-anchor="middle" fill="#000" stroke="#000" stroke-width="0.15">39</text>
<line x1="111.66" y1="424.6925" x2="111.66" y2="429.5" stroke="#777777" stroke-width="1.0"/>
<line x1="109.86" y1="424.6925" x2="113.46" y2="424.6925" stroke="#777777" stroke-width="0.8"/>
<line x1="108.56" y1="427.09625" x2="114.75999999999999" y2="427.09625" stroke="#777777" stroke-width="1.1"/>
<polygon points="111.66,421.79 114.56,427.19 108.76,427.19" fill="#777777"/>
<polygon points="111.66,424.20 114.56,429.60 108.76,429.60" fill="#777777"/>
<polygon points="111.66,426.60 114.56,432.00 108.76,432.00" fill="#777777"/>
<line x1="121.46000000000001" y1="389.044486734949" x2="121.46000000000001" y2="429.5" stroke="#000" stroke-width="1.45"/>
<line x1="119.56" y1="389.044486734949" x2="123.36000000000001" y2="389.044486734949" stroke="#000" stroke-width="1.16"/>
<line x1="118.06" y1="411.39175" x2="124.86000000000001" y2="411.39175" stroke="#000" stroke-width="1.1"/>
<polygon points="121.46,382.39 124.26,385.59 121.46,388.79 118.66,385.59" fill="#000"/>
<polygon points="121.46,420.69 124.26,423.89 121.46,427.09 118.66,423.89" fill="#000"/>
<polygon points="121.46,421.49 124.26,424.69 121.46,427.89 118.66,424.69" fill="#000"/>
<line x1="142.43" y1="429.5" x2="142.43" y2="432.1" stroke="#222" stroke-width="0.9"/>
<text x="142.23000000000002" y="440.8" font-size="7.3" font-weight="bold" text-anchor="middle" fill="#000" stroke="#000" stroke-width="0.15">40</text>
<line x1="137.53" y1="424.372" x2="137.53" y2="429.5" stroke="#777777" stroke-width="1.0"/>
<line x1="135.73" y1="424.372" x2="139.33" y2="424.372" stroke="#777777" stroke-width="0.8"/>
<line x1="134.43" y1="426.936" x2="140.63" y2="426.936" stroke="#777777" stroke-width="1.1"/>
<polygon points="137.53,421.47 140.43,426.87 134.63,426.87" fill="#777777"/>
<polygon points="137.53,424.04 140.43,429.44 134.63,429.44" fill="#777777"/>
<polygon points="137.53,426.60 140.43,432.00 134.63,432.00" fill="#777777"/>
<line x1="147.33" y1="348.13590118312106" x2="147.33" y2="410.0134321502123" stroke="#000" stroke-width="1.45"/>
<line x1="145.43" y1="348.13590118312106" x2="149.23000000000002" y2="348.13590118312106" stroke="#000" stroke-width="1.16"/>
<line x1="145.43" y1="410.0134321502123" x2="149.23000000000002" y2="410.0134321502123" stroke="#000" stroke-width="1.16"/>
<line x1="143.93" y1="379.07466666666664" x2="150.73000000000002" y2="379.07466666666664" stroke="#000" stroke-width="1.1"/>
<polygon points="147.33,341.05 150.13,344.25 147.33,347.45 144.53,344.25" fill="#000"/>
<polygon points="147.33,386.40 150.13,389.60 147.33,392.80 144.53,389.60" fill="#000"/>
<polygon points="147.33,400.18 150.13,403.38 147.33,406.58 144.53,403.38" fill="#000"/>
<text x="147.33" y="340.9" font-size="8.2" font-weight="bold" text-anchor="middle" fill="#444" stroke="#444" stroke-width="0.28">*</text>
<line x1="168.3" y1="429.5" x2="168.3" y2="432.1" stroke="#222" stroke-width="0.9"/>
<text x="168.10000000000002" y="440.8" font-size="7.3" font-weight="bold" text-anchor="middle" fill="#000" stroke="#000" stroke-width="0.15">51</text>
<line x1="163.4" y1="418.97610738515607" x2="163.4" y2="429.5" stroke="#777777" stroke-width="1.0"/>
<line x1="161.6" y1="418.97610738515607" x2="165.20000000000002" y2="418.97610738515607" stroke="#777777" stroke-width="0.8"/>
<line x1="160.3" y1="424.2651666666667" x2="166.5" y2="424.2651666666667" stroke="#777777" stroke-width="1.1"/>
<polygon points="163.40,416.02 166.30,421.42 160.50,421.42" fill="#777777"/>
<polygon points="163.40,421.47 166.30,426.87 160.50,426.87" fill="#777777"/>
<polygon points="163.40,426.60 166.30,432.00 160.50,432.00" fill="#777777"/>
<line x1="173.20000000000002" y1="369.16904741318206" x2="173.20000000000002" y2="415.26128592015124" stroke="#000" stroke-width="1.45"/>
<line x1="171.3" y1="369.16904741318206" x2="175.10000000000002" y2="369.16904741318206" stroke="#000" stroke-width="1.16"/>
<line x1="171.3" y1="415.26128592015124" x2="175.10000000000002" y2="415.26128592015124" stroke="#000" stroke-width="1.16"/>
<line x1="169.8" y1="392.2151666666667" x2="176.60000000000002" y2="392.2151666666667" stroke="#000" stroke-width="1.1"/>
<polygon points="173.20,363.96 176.00,367.16 173.20,370.36 170.40,367.16" fill="#000"/>
<polygon points="173.20,393.77 176.00,396.97 173.20,400.17 170.40,396.97" fill="#000"/>
<polygon points="173.20,409.31 176.00,412.51 173.20,415.71 170.40,412.51" fill="#000"/>
<text x="173.20000000000002" y="363.4" font-size="8.2" font-weight="bold" text-anchor="middle" fill="#444" stroke="#444" stroke-width="0.28">*</text>
<line x1="194.17000000000002" y1="429.5" x2="194.17000000000002" y2="432.1" stroke="#222" stroke-width="0.9"/>
<text x="193.97000000000003" y="440.8" font-size="7.3" font-weight="bold" text-anchor="middle" fill="#000" stroke="#000" stroke-width="0.15">59</text>
<line x1="189.27" y1="424.82558122378094" x2="189.27" y2="429.4737521095524" stroke="#777777" stroke-width="1.0"/>
<line x1="187.47" y1="424.82558122378094" x2="191.07000000000002" y2="424.82558122378094" stroke="#777777" stroke-width="0.8"/>
<line x1="187.47" y1="429.4737521095524" x2="191.07000000000002" y2="429.4737521095524" stroke="#777777" stroke-width="0.8"/>
<line x1="186.17000000000002" y1="427.1496666666667" x2="192.37" y2="427.1496666666667" stroke="#777777" stroke-width="1.1"/>
<polygon points="189.27,421.95 192.17,427.35 186.37,427.35" fill="#777777"/>
<polygon points="189.27,424.20 192.17,429.60 186.37,429.60" fill="#777777"/>
<polygon points="189.27,426.60 192.17,432.00 186.37,432.00" fill="#777777"/>
<line x1="199.07000000000002" y1="372.8932959874576" x2="199.07000000000002" y2="410.25503734587573" stroke="#000" stroke-width="1.45"/>
<line x1="197.17000000000002" y1="372.8932959874576" x2="200.97000000000003" y2="372.8932959874576" stroke="#000" stroke-width="1.16"/>
<line x1="197.17000000000002" y1="410.25503734587573" x2="200.97000000000003" y2="410.25503734587573" stroke="#000" stroke-width="1.16"/>
<line x1="195.67000000000002" y1="391.57416666666666" x2="202.47000000000003" y2="391.57416666666666" stroke="#000" stroke-width="1.1"/>
<polygon points="199.07,367.01 201.87,370.21 199.07,373.41 196.27,370.21" fill="#000"/>
<polygon points="199.07,396.49 201.87,399.69 199.07,402.89 196.27,399.69" fill="#000"/>
<polygon points="199.07,401.62 201.87,404.82 199.07,408.02 196.27,404.82" fill="#000"/>
<text x="199.07000000000002" y="367.6" font-size="8.2" font-weight="bold" text-anchor="middle" fill="#444" stroke="#444" stroke-width="0.28">*</text>
<line x1="220.04000000000002" y1="429.5" x2="220.04000000000002" y2="432.1" stroke="#222" stroke-width="0.9"/>
<text x="219.84000000000003" y="440.8" font-size="7.3" font-weight="bold" text-anchor="middle" fill="#000" stroke="#000" stroke-width="0.15">61</text>
<line x1="215.14000000000001" y1="419.4940443513709" x2="215.14000000000001" y2="424.8697889819624" stroke="#777777" stroke-width="1.0"/>
<line x1="213.34" y1="419.4940443513709" x2="216.94000000000003" y2="419.4940443513709" stroke="#777777" stroke-width="0.8"/>
<line x1="213.34" y1="424.8697889819624" x2="216.94000000000003" y2="424.8697889819624" stroke="#777777" stroke-width="0.8"/>
<line x1="212.04000000000002" y1="422.18191666666667" x2="218.24" y2="422.18191666666667" stroke="#777777" stroke-width="1.1"/>
<polygon points="215.14,416.18 218.04,421.58 212.24,421.58" fill="#777777"/>
<polygon points="215.14,420.67 218.04,426.07 212.24,426.07" fill="#777777"/>
<polygon points="215.14,420.99 218.04,426.39 212.24,426.39" fill="#777777"/>
<line x1="224.94000000000003" y1="359.1533518065765" x2="224.94000000000003" y2="408.8246481934235" stroke="#000" stroke-width="1.45"/>
<line x1="223.04000000000002" y1="359.1533518065765" x2="226.84000000000003" y2="359.1533518065765" stroke="#000" stroke-width="1.16"/>
<line x1="223.04000000000002" y1="408.8246481934235" x2="226.84000000000003" y2="408.8246481934235" stroke="#000" stroke-width="1.16"/>
<line x1="221.54000000000002" y1="383.98900000000003" x2="228.34000000000003" y2="383.98900000000003" stroke="#000" stroke-width="1.1"/>
<polygon points="224.94,352.26 227.74,355.46 224.94,358.66 222.14,355.46" fill="#000"/>
<polygon points="224.94,392.49 227.74,395.69 224.94,398.89 222.14,395.69" fill="#000"/>
<polygon points="224.94,397.62 227.74,400.82 224.94,404.02 222.14,400.82" fill="#000"/>
<text x="224.94000000000003" y="352.7" font-size="8.2" font-weight="bold" text-anchor="middle" fill="#444" stroke="#444" stroke-width="0.28">*</text>
<line x1="245.91000000000003" y1="429.5" x2="245.91000000000003" y2="432.1" stroke="#222" stroke-width="0.9"/>
<text x="245.71000000000004" y="440.8" font-size="7.3" font-weight="bold" text-anchor="middle" fill="#000" stroke="#000" stroke-width="0.15">62</text>
<line x1="241.01000000000002" y1="424.83677806349573" x2="241.01000000000002" y2="429.5" stroke="#777777" stroke-width="1.0"/>
<line x1="239.21" y1="424.83677806349573" x2="242.81000000000003" y2="424.83677806349573" stroke="#777777" stroke-width="0.8"/>
<line x1="237.91000000000003" y1="427.2565" x2="244.11" y2="427.2565" stroke="#777777" stroke-width="1.1"/>
<polygon points="241.01,421.79 243.91,427.19 238.11,427.19" fill="#777777"/>
<polygon points="241.01,424.68 243.91,430.08 238.11,430.08" fill="#777777"/>
<polygon points="241.01,426.60 243.91,432.00 238.11,432.00" fill="#777777"/>
<line x1="250.81000000000003" y1="362.8105685335832" x2="250.81000000000003" y2="410.29543146641686" stroke="#000" stroke-width="1.45"/>
<line x1="248.91000000000003" y1="362.8105685335832" x2="252.71000000000004" y2="362.8105685335832" stroke="#000" stroke-width="1.16"/>
<line x1="248.91000000000003" y1="410.29543146641686" x2="252.71000000000004" y2="410.29543146641686" stroke="#000" stroke-width="1.16"/>
<line x1="247.41000000000003" y1="386.553" x2="254.21000000000004" y2="386.553" stroke="#000" stroke-width="1.1"/>
<polygon points="250.81,355.95 253.61,359.15 250.81,362.35 248.01,359.15" fill="#000"/>
<polygon points="251.81,396.33 254.61,399.53 251.81,402.73 249.01,399.53" fill="#000"/>
<polygon points="249.81,397.78 252.61,400.98 249.81,404.18 247.01,400.98" fill="#000"/>
<text x="250.81000000000003" y="355.8" font-size="8.2" font-weight="bold" text-anchor="middle" fill="#444" stroke="#444" stroke-width="0.28">*</text>
<polygon points="209.10,317.35 210.95,320.85 207.25,320.85" fill="#6a6a6a"/>
<text x="215.9" y="320.8" font-size="4.8" font-weight="bold" text-anchor="start" fill="#000" stroke="#000" stroke-width="0.1">control</text>
<polygon points="209.10,324.30 210.80,326.10 209.10,327.90 207.40,326.10" fill="#000"/>
<text x="215.9" y="327.8" font-size="4.8" font-weight="bold" text-anchor="start" fill="#000" stroke="#000" stroke-width="0.1">S DNA vaccinated</text>
<text x="278.4" y="320.7" font-size="12" font-weight="normal" text-anchor="start" fill="#000" stroke="#000" stroke-width="0.45">D</text>
<text x="287.2" y="426.5" font-size="8" font-weight="bold" text-anchor="start" fill="#000" stroke="#000" stroke-width="0.28" transform="rotate(-90 287.2 426.5)">IL-4 SFUs per 10<tspan font-size="5.8" dy="-3.8">6</tspan><tspan dy="3.8"> PBMCs</tspan></text>
<line x1="304.9" y1="328.65" x2="304.9" y2="429.4" stroke="#222" stroke-width="1.4"/>
<line x1="304.2" y1="428.9" x2="520" y2="428.9" stroke="#222" stroke-width="1.0"/>
<line x1="301.79999999999995" y1="329.15" x2="304.9" y2="329.15" stroke="#222" stroke-width="0.9"/>
<text x="301.0" y="331.75" font-size="7.3" font-weight="bold" text-anchor="end" fill="#000" stroke="#000" stroke-width="0.15">60</text>
<line x1="301.79999999999995" y1="362.4" x2="304.9" y2="362.4" stroke="#222" stroke-width="0.9"/>
<text x="301.0" y="365.0" font-size="7.3" font-weight="bold" text-anchor="end" fill="#000" stroke="#000" stroke-width="0.15">40</text>
<line x1="301.79999999999995" y1="395.65" x2="304.9" y2="395.65" stroke="#222" stroke-width="0.9"/>
<text x="301.0" y="398.25" font-size="7.3" font-weight="bold" text-anchor="end" fill="#000" stroke="#000" stroke-width="0.15">20</text>
<line x1="301.79999999999995" y1="428.9" x2="304.9" y2="428.9" stroke="#222" stroke-width="0.9"/>
<text x="301.0" y="431.5" font-size="7.3" font-weight="bold" text-anchor="end" fill="#000" stroke="#000" stroke-width="0.15">0</text>
<text x="284.4" y="440.8" font-size="7.1" font-weight="bold" text-anchor="start" fill="#000" stroke="#000" stroke-width="0.15">peptide</text>
<line x1="320.0" y1="428.9" x2="320.0" y2="431.5" stroke="#222" stroke-width="0.9"/>
<text x="320.6" y="440.8" font-size="7.3" font-weight="bold" text-anchor="middle" fill="#000" stroke="#000" stroke-width="0.15">40</text>
<line x1="311.29999999999995" y1="428.9" x2="317.5" y2="428.9" stroke="#777777" stroke-width="1.1"/>
<polygon points="314.40,426.00 317.30,431.40 311.50,431.40" fill="#777777"/>
<polygon points="314.40,426.00 317.30,431.40 311.50,431.40" fill="#777777"/>
<polygon points="314.40,426.00 317.30,431.40 311.50,431.40" fill="#777777"/>
<line x1="326.1" y1="356.58728414924707" x2="326.1" y2="397.8052158507529" stroke="#000" stroke-width="1.45"/>
<line x1="324.20000000000005" y1="356.58728414924707" x2="328.0" y2="356.58728414924707" stroke="#000" stroke-width="1.16"/>
<line x1="324.20000000000005" y1="397.8052158507529" x2="328.0" y2="397.8052158507529" stroke="#000" stroke-width="1.16"/>
<line x1="322.70000000000005" y1="377.19624999999996" x2="329.5" y2="377.19624999999996" stroke="#000" stroke-width="1.1"/>
<polygon points="326.10,350.22 328.90,353.42 326.10,356.62 323.30,353.42" fill="#000"/>
<polygon points="327.00,384.97 329.80,388.17 327.00,391.37 324.20,388.17" fill="#000"/>
<polygon points="325.00,386.80 327.80,390.00 325.00,393.20 322.20,390.00" fill="#000"/>
<text x="326.1" y="348.6" font-size="8.2" font-weight="bold" text-anchor="middle" fill="#444" stroke="#444" stroke-width="0.28">*</text>
<line x1="350.47" y1="428.9" x2="350.47" y2="431.5" stroke="#222" stroke-width="0.9"/>
<text x="351.07000000000005" y="440.8" font-size="7.3" font-weight="bold" text-anchor="middle" fill="#000" stroke="#000" stroke-width="0.15">51</text>
<line x1="341.77" y1="428.9" x2="347.97" y2="428.9" stroke="#777777" stroke-width="1.1"/>
<polygon points="344.87,426.00 347.77,431.40 341.97,431.40" fill="#777777"/>
<polygon points="344.87,426.00 347.77,431.40 341.97,431.40" fill="#777777"/>
<polygon points="344.87,426.00 347.77,431.40 341.97,431.40" fill="#777777"/>
<line x1="356.57000000000005" y1="391.55755044783695" x2="356.57000000000005" y2="422.684949552163" stroke="#000" stroke-width="1.45"/>
<line x1="354.6700000000001" y1="391.55755044783695" x2="358.47" y2="391.55755044783695" stroke="#000" stroke-width="1.16"/>
<line x1="354.6700000000001" y1="422.684949552163" x2="358.47" y2="422.684949552163" stroke="#000" stroke-width="1.16"/>
<line x1="353.1700000000001" y1="407.12125" x2="359.97" y2="407.12125" stroke="#000" stroke-width="1.1"/>
<polygon points="357.37,394.28 360.17,397.48 357.37,400.68 354.57,397.48" fill="#000"/>
<polygon points="355.67,395.61 358.47,398.81 355.67,402.01 352.87,398.81" fill="#000"/>
<polygon points="356.57,421.88 359.37,425.08 356.57,428.28 353.77,425.08" fill="#000"/>
<text x="356.57000000000005" y="388.4" font-size="8.2" font-weight="bold" text-anchor="middle" fill="#444" stroke="#444" stroke-width="0.28">*</text>
<line x1="380.94" y1="428.9" x2="380.94" y2="431.5" stroke="#222" stroke-width="0.9"/>
<text x="381.54" y="440.8" font-size="7.3" font-weight="bold" text-anchor="middle" fill="#000" stroke="#000" stroke-width="0.15">59</text>
<line x1="372.23999999999995" y1="428.9" x2="378.44" y2="428.9" stroke="#777777" stroke-width="1.1"/>
<polygon points="375.34,426.00 378.24,431.40 372.44,431.40" fill="#777777"/>
<polygon points="375.34,426.00 378.24,431.40 372.44,431.40" fill="#777777"/>
<polygon points="375.34,426.00 378.24,431.40 372.44,431.40" fill="#777777"/>
<line x1="387.04" y1="382.3687542432298" x2="387.04" y2="416.2462457567702" stroke="#000" stroke-width="1.45"/>
<line x1="385.14000000000004" y1="382.3687542432298" x2="388.94" y2="382.3687542432298" stroke="#000" stroke-width="1.16"/>
<line x1="385.14000000000004" y1="416.2462457567702" x2="388.94" y2="416.2462457567702" stroke="#000" stroke-width="1.16"/>
<line x1="383.64000000000004" y1="399.3075" x2="390.44" y2="399.3075" stroke="#000" stroke-width="1.1"/>
<polygon points="387.04,383.64 389.84,386.84 387.04,390.04 384.24,386.84" fill="#000"/>
<polygon points="387.04,389.29 389.84,392.49 387.04,395.69 384.24,392.49" fill="#000"/>
<polygon points="387.04,415.39 389.84,418.59 387.04,421.79 384.24,418.59" fill="#000"/>
<text x="387.04" y="380.0" font-size="8.2" font-weight="bold" text-anchor="middle" fill="#444" stroke="#444" stroke-width="0.28">*</text>
<line x1="411.40999999999997" y1="428.9" x2="411.40999999999997" y2="431.5" stroke="#222" stroke-width="0.9"/>
<text x="412.01" y="440.8" font-size="7.3" font-weight="bold" text-anchor="middle" fill="#000" stroke="#000" stroke-width="0.15">61</text>
<line x1="405.80999999999995" y1="424.14382263571196" x2="405.80999999999995" y2="428.9" stroke="#777777" stroke-width="1.0"/>
<line x1="404.00999999999993" y1="424.14382263571196" x2="407.60999999999996" y2="424.14382263571196" stroke="#777777" stroke-width="0.8"/>
<line x1="402.7099999999999" y1="426.68333333333334" x2="408.90999999999997" y2="426.68333333333334" stroke="#777777" stroke-width="1.1"/>
<polygon points="405.81,421.01 408.71,426.41 402.91,426.41" fill="#777777"/>
<polygon points="405.81,424.34 408.71,429.74 402.91,429.74" fill="#777777"/>
<polygon points="405.81,426.00 408.71,431.40 402.91,431.40" fill="#777777"/>
<line x1="417.51" y1="380.21507848188276" x2="417.51" y2="421.9465881847839" stroke="#000" stroke-width="1.45"/>
<line x1="415.61" y1="380.21507848188276" x2="419.40999999999997" y2="380.21507848188276" stroke="#000" stroke-width="1.16"/>
<line x1="415.61" y1="421.9465881847839" x2="419.40999999999997" y2="421.9465881847839" stroke="#000" stroke-width="1.16"/>
<line x1="414.11" y1="401.0808333333333" x2="420.90999999999997" y2="401.0808333333333" stroke="#000" stroke-width="1.1"/>
<polygon points="417.51,374.66 420.31,377.86 417.51,381.06 414.71,377.86" fill="#000"/>
<polygon points="417.51,403.92 420.31,407.12 417.51,410.32 414.71,407.12" fill="#000"/>
<polygon points="417.51,415.06 420.31,418.26 417.51,421.46 414.71,418.26" fill="#000"/>
<text x="417.51" y="373.3" font-size="8.2" font-weight="bold" text-anchor="middle" fill="#444" stroke="#444" stroke-width="0.28">*</text>
<line x1="441.88" y1="428.9" x2="441.88" y2="431.5" stroke="#222" stroke-width="0.9"/>
<text x="442.48" y="440.8" font-size="7.3" font-weight="bold" text-anchor="middle" fill="#000" stroke="#000" stroke-width="0.15">62</text>
<line x1="433.17999999999995" y1="428.9" x2="439.38" y2="428.9" stroke="#777777" stroke-width="1.1"/>
<polygon points="436.28,426.00 439.18,431.40 433.38,431.40" fill="#777777"/>
<polygon points="436.28,426.00 439.18,431.40 433.38,431.40" fill="#777777"/>
<polygon points="436.28,426.00 439.18,431.40 433.38,431.40" fill="#777777"/>
<line x1="447.98" y1="384.6178153768928" x2="447.98" y2="427.0755179564405" stroke="#000" stroke-width="1.45"/>
<line x1="446.08000000000004" y1="384.6178153768928" x2="449.88" y2="384.6178153768928" stroke="#000" stroke-width="1.16"/>
<line x1="446.08000000000004" y1="427.0755179564405" x2="449.88" y2="427.0755179564405" stroke="#000" stroke-width="1.16"/>
<line x1="444.58000000000004" y1="405.84666666666664" x2="451.38" y2="405.84666666666664" stroke="#000" stroke-width="1.1"/>
<polygon points="447.98,378.15 450.78,381.35 447.98,384.55 445.18,381.35" fill="#000"/>
<polygon points="447.98,414.06 450.78,417.26 447.98,420.46 445.18,417.26" fill="#000"/>
<polygon points="447.98,415.72 450.78,418.92 447.98,422.12 445.18,418.92" fill="#000"/>
<text x="447.98" y="377.3" font-size="8.2" font-weight="bold" text-anchor="middle" fill="#444" stroke="#444" stroke-width="0.28">*</text>
<line x1="472.35" y1="428.9" x2="472.35" y2="431.5" stroke="#222" stroke-width="0.9"/>
<text x="472.95000000000005" y="440.8" font-size="7.3" font-weight="bold" text-anchor="middle" fill="#000" stroke="#000" stroke-width="0.15">78</text>
<line x1="463.65" y1="428.9" x2="469.85" y2="428.9" stroke="#777777" stroke-width="1.1"/>
<polygon points="466.75,426.00 469.65,431.40 463.85,431.40" fill="#777777"/>
<polygon points="466.75,426.00 469.65,431.40 463.85,431.40" fill="#777777"/>
<polygon points="466.75,426.00 469.65,431.40 463.85,431.40" fill="#777777"/>
<line x1="478.45000000000005" y1="383.13511685779577" x2="478.45000000000005" y2="428.1148831422042" stroke="#000" stroke-width="1.45"/>
<line x1="476.55000000000007" y1="383.13511685779577" x2="480.35" y2="383.13511685779577" stroke="#000" stroke-width="1.16"/>
<line x1="476.55000000000007" y1="428.1148831422042" x2="480.35" y2="428.1148831422042" stroke="#000" stroke-width="1.16"/>
<line x1="475.05000000000007" y1="405.625" x2="481.85" y2="405.625" stroke="#000" stroke-width="1.1"/>
<polygon points="478.45,380.81 481.25,384.01 478.45,387.21 475.65,384.01" fill="#000"/>
<polygon points="478.45,400.76 481.25,403.96 478.45,407.16 475.65,403.96" fill="#000"/>
<polygon points="478.45,425.70 481.25,428.90 478.45,432.10 475.65,428.90" fill="#000"/>
<line x1="502.82" y1="428.9" x2="502.82" y2="431.5" stroke="#222" stroke-width="0.9"/>
<text x="503.42" y="440.8" font-size="7.3" font-weight="bold" text-anchor="middle" fill="#000" stroke="#000" stroke-width="0.15">79</text>
<line x1="494.11999999999995" y1="428.9" x2="500.32" y2="428.9" stroke="#777777" stroke-width="1.1"/>
<polygon points="497.22,426.00 500.12,431.40 494.32,431.40" fill="#777777"/>
<polygon points="497.22,426.00 500.12,431.40 494.32,431.40" fill="#777777"/>
<polygon points="497.22,426.00 500.12,431.40 494.32,431.40" fill="#777777"/>
<line x1="508.92" y1="352.44241979568176" x2="508.92" y2="428.9" stroke="#000" stroke-width="1.45"/>
<line x1="507.02000000000004" y1="352.44241979568176" x2="510.82" y2="352.44241979568176" stroke="#000" stroke-width="1.16"/>
<line x1="505.52000000000004" y1="400.9145833333333" x2="512.32" y2="400.9145833333333" stroke="#000" stroke-width="1.1"/>
<polygon points="508.92,341.74 511.72,344.94 508.92,348.14 506.12,344.94" fill="#000"/>
<polygon points="508.92,425.70 511.72,428.90 508.92,432.10 506.12,428.90" fill="#000"/>
<polygon points="508.92,425.70 511.72,428.90 508.92,432.10 506.12,428.90" fill="#000"/>
<polygon points="447.50,316.45 449.35,319.95 445.65,319.95" fill="#6a6a6a"/>
<text x="454.2" y="319.9" font-size="4.8" font-weight="bold" text-anchor="start" fill="#000" stroke="#000" stroke-width="0.1">control</text>
<polygon points="447.50,323.40 449.20,325.20 447.50,327.00 445.80,325.20" fill="#000"/>
<text x="454.2" y="326.9" font-size="4.8" font-weight="bold" text-anchor="start" fill="#000" stroke="#000" stroke-width="0.1">S DNA vaccinated</text>
</svg>
</body></html>
